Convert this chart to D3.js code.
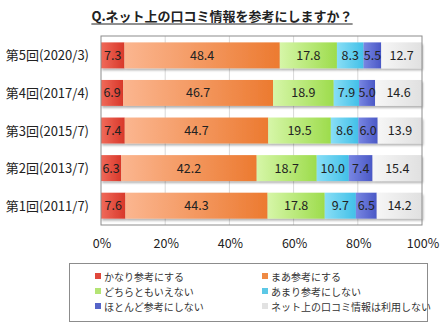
<!DOCTYPE html>
<html>
<head>
<meta charset="utf-8">
<script src="https://cdn.jsdelivr.net/npm/d3@7"></script>
<style>
  body { margin: 0; background: #fff; }
  svg text { font-family: "Noto Sans CJK JP", "Noto Sans", sans-serif; }
</style>
</head>
<body>
<svg id="chart" width="446" height="328"></svg>
<script>
// data
const rounds = ["第5回(2020/3)", "第4回(2017/4)", "第3回(2015/7)", "第2回(2013/7)", "第1回(2011/7)"];
const seriesNames = ["かなり参考にする", "まあ参考にする", "どちらともいえない", "あまり参考にしない", "ほとんど参考にしない", "ネット上の口コミ情報は利用しない"];
const kanari   = [7.3, 6.9, 7.4, 6.3, 7.6];
const maa      = [48.4, 46.7, 44.7, 42.2, 44.3];
const dochira  = [17.8, 18.9, 19.5, 18.7, 17.8];
const amari    = [8.3, 7.9, 8.6, 10.0, 9.7];
const hotondo  = [5.5, 5.0, 6.0, 7.4, 6.5];
const riyou    = [12.7, 14.6, 13.9, 15.4, 14.2];
const tickVals = [0, 20, 40, 60, 80, 100];

const seriesVals = [kanari, maa, dochira, amari, hotondo, riyou];
const grad = [["#f06a5a", "#d8382a"], ["#fbb690", "#ec7a30"], ["#d6f6a8", "#9ddc4c"],
              ["#88def6", "#42c0e8"], ["#7886e2", "#4a58c6"], ["#f6f6f6", "#e0e0e0"]];
const legendCol = ["#e0483c", "#ef8a44", "#b4e474", "#5cc8e6", "#5664c8", "#e2e2e2"];

const margin = {left: 101, top: 36, right: 24, bottom: 103};
const W = 446, H = 328;
const pw = W - margin.left - margin.right, ph = H - margin.top - margin.bottom;

const svg = d3.select("#chart");
const defs = svg.append("defs");
grad.forEach((g, i) => {
  const lg = defs.append("linearGradient").attr("id", "g" + i)
    .attr("x1", 0).attr("x2", 1).attr("y1", 0).attr("y2", 0);
  lg.append("stop").attr("offset", "0%").attr("stop-color", g[0]);
  lg.append("stop").attr("offset", "100%").attr("stop-color", g[1]);
});
const f = defs.append("filter").attr("id", "shadow").attr("x", "-5%").attr("y", "-10%").attr("width", "110%").attr("height", "140%");
f.append("feDropShadow").attr("dx", 1).attr("dy", 2).attr("stdDeviation", 1)
  .attr("flood-color", "#000").attr("flood-opacity", 0.3);

// title
const title = svg.append("text").attr("x", 222).attr("y", 21)
  .attr("text-anchor", "middle").attr("font-size", 13).attr("font-weight", "bold")
  .attr("fill", "#222").text("Q.ネット上の口コミ情報を参考にしますか？");
const tb = title.node().getBBox();
svg.append("line").attr("x1", tb.x).attr("x2", tb.x + tb.width)
  .attr("y1", 24).attr("y2", 24).attr("stroke", "#222").attr("stroke-width", 1);

const x = d3.scaleLinear().domain([0, 100]).range([0, pw]);
const y = d3.scaleBand().domain(rounds).range([0, ph]).paddingInner(0.31).paddingOuter(0.17);

const g = svg.append("g").attr("transform", `translate(${margin.left},${margin.top})`);

// grid
g.selectAll(".grid").data(tickVals.slice(1, -1)).enter().append("line")
  .attr("x1", d => x(d)).attr("x2", d => x(d)).attr("y1", 0).attr("y2", ph)
  .attr("stroke", "#d8d8d8");

// stacked bars
const stackData = rounds.map((r, i) => {
  const o = {round: r};
  seriesNames.forEach((s, j) => o[s] = seriesVals[j][i]);
  return o;
});
const stacked = d3.stack().keys(seriesNames)(stackData);

const rowG = g.selectAll(".row").data(rounds).enter().append("g")
  .attr("filter", "url(#shadow)");
stacked.forEach((layer, j) => {
  layer.forEach((d, i) => {
    rowG.filter((r, k) => k === i).append("rect")
      .attr("x", x(d[0])).attr("width", x(d[1]) - x(d[0]))
      .attr("y", y(rounds[i])).attr("height", y.bandwidth())
      .attr("fill", `url(#g${j})`);
  });
});
stacked.forEach((layer, j) => {
  g.selectAll(".lab" + j).data(layer).enter().append("text")
    .attr("x", d => x((d[0] + d[1]) / 2)).attr("y", (d, i) => y(rounds[i]) + y.bandwidth() / 2 + 4.5)
    .attr("text-anchor", "middle").attr("font-size", 12.5).attr("fill", "#222")
    .text(d => (d[1] - d[0]).toFixed(1));
});

// frame
g.append("rect").attr("width", pw).attr("height", ph).attr("fill", "none").attr("stroke", "#8c8c8c");

// y labels
g.selectAll(".ylab").data(rounds).enter().append("text")
  .attr("x", -12).attr("y", d => y(d) + y.bandwidth() / 2 + 5)
  .attr("text-anchor", "end").attr("font-size", 13).attr("fill", "#222").text(d => d);

// x tick labels
g.selectAll(".xlab").data(tickVals).enter().append("text")
  .attr("x", d => x(d) + 1).attr("y", ph + 23)
  .attr("text-anchor", "middle").attr("font-size", 12.5).attr("fill", "#222").text(d => d + "%");

// legend
const lg = svg.append("g");
lg.append("rect").attr("x", 69.5).attr("y", 263.5).attr("width", 358).attr("height", 58)
  .attr("fill", "#fff").attr("stroke", "#8c8c8c");
seriesNames.forEach((s, i) => {
  const cx = i % 2 === 0 ? 95 : 262;
  const cy = 277 + Math.floor(i / 2) * 15;
  lg.append("rect").attr("x", cx).attr("y", cy - 4).attr("width", 6).attr("height", 6).attr("fill", legendCol[i]);
  lg.append("text").attr("x", cx + 9).attr("y", cy + 3.5).attr("font-size", 10).attr("fill", "#333").text(s);
});
</script>
</body>
</html>
